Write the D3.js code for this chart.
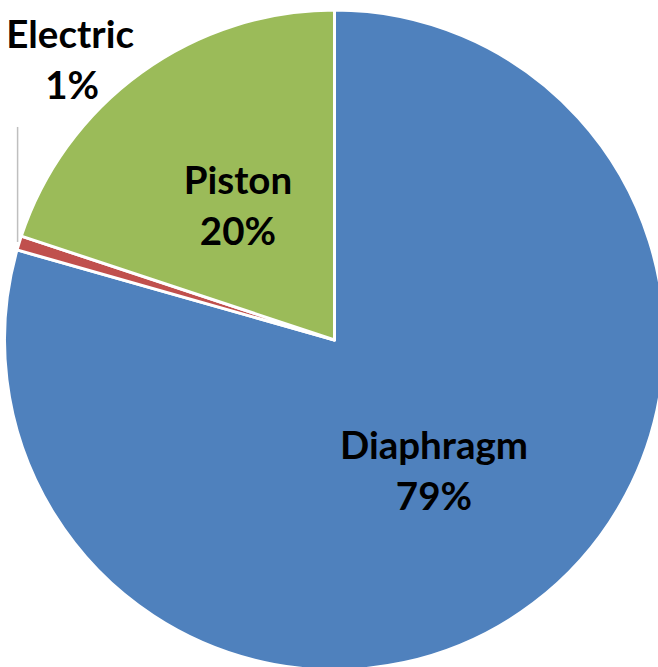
<!DOCTYPE html>
<html>
<head>
<meta charset="utf-8">
<script src="https://cdn.jsdelivr.net/npm/d3@7"></script>
<style>
  html, body { margin: 0; padding: 0; background: #ffffff; }
  svg { display: block; }
  text { font-family: Lato, "Open Sans", sans-serif; font-weight: bold; fill: #000; }
</style>
</head>
<body>
<svg id="chart" width="658" height="667"></svg>
<script>
const categories = ["Diaphragm", "Electric", "Piston"];
const values = [79.4, 0.7, 19.9];
const colors = ["#4F81BD", "#C0504D", "#9BBB59"];

const width = 658, height = 667;
const cx = 334.5, cy = 340, R = 330;
const fontSize = 38.5, lineGap = 51;

const svg = d3.select("#chart");
const g = svg.append("g").attr("transform", `translate(${cx},${cy})`);

const data = categories.map((c, i) => ({ name: c, value: values[i], color: colors[i] }));
const total = d3.sum(values);
const pie = d3.pie().value(d => d.value).sort(null).startAngle(0).endAngle(2 * Math.PI);
const arcs = pie(data);
const arc = d3.arc().innerRadius(0).outerRadius(R);

g.selectAll("path.slice").data(arcs).join("path")
  .attr("class", "slice")
  .attr("d", arc)
  .attr("fill", d => d.data.color)
  .attr("stroke", "#fff")
  .attr("stroke-width", 3)
  .attr("stroke-linejoin", "round");

function pctLabel(d) { return Math.round(d.data.value / total * 100) + "%"; }

arcs.forEach(d => {
  const frac = d.data.value / total;
  if (frac >= 0.05) {
    const [x, y] = arc.centroid(d);
    const t = g.append("text").attr("text-anchor", "middle")
      .attr("font-size", fontSize);
    t.append("tspan").attr("x", x).attr("y", y - lineGap / 2 + 13).text(d.data.name);
    t.append("tspan").attr("x", x).attr("y", y + lineGap / 2 + 13).text(pctLabel(d));
  } else {
    const mid = (d.startAngle + d.endAngle) / 2;
    const px = R * Math.sin(mid), py = -R * Math.cos(mid);
    const labelCx = px + 51, labelCy = py - 182;
    g.append("line")
      .attr("x1", px - 1.5).attr("y1", py - 1)
      .attr("x2", px - 1.5).attr("y2", labelCy + 66)
      .attr("stroke", "#BFBFBF").attr("stroke-width", 1.5);
    const t = g.append("text").attr("text-anchor", "middle").attr("font-size", fontSize);
    t.append("tspan").attr("x", labelCx).attr("y", labelCy - lineGap / 2 + 13).text(d.data.name);
    t.append("tspan").attr("x", labelCx + 2).attr("y", labelCy + lineGap / 2 + 13).text(pctLabel(d));
  }
});
</script>
</body>
</html>
